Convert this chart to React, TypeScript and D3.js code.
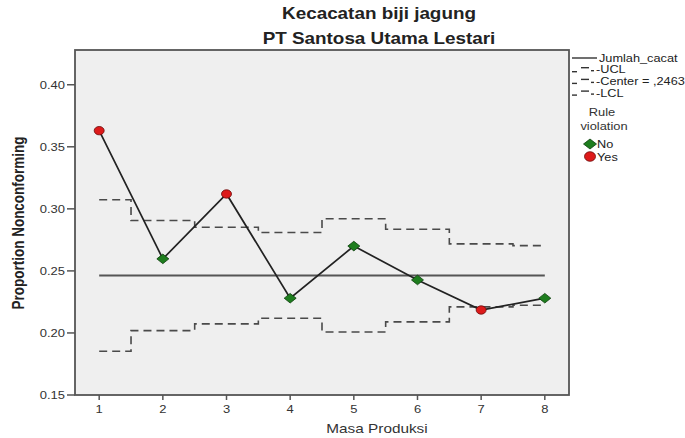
import React from "react";
import * as d3 from "d3";

const periods = [1, 2, 3, 4, 5, 6, 7, 8];
const proportions = [0.363, 0.2597, 0.312, 0.228, 0.27, 0.2427, 0.2185, 0.228];
const ucl = [0.3073, 0.2906, 0.2852, 0.2809, 0.292, 0.2836, 0.2718, 0.2704];
const lcl = [0.1852, 0.2019, 0.2073, 0.2118, 0.2008, 0.2089, 0.221, 0.2223];
const center = 0.2463;
const violations = ["Yes", "No", "Yes", "No", "No", "No", "Yes", "No"];
const yTicks = [0.15, 0.2, 0.25, 0.3, 0.35, 0.4];
const xTicks = [1, 2, 3, 4, 5, 6, 7, 8];
const legendLines = ["Jumlah_cacat", "UCL", "Center = ,2463", "LCL"];
const legendMarkers = ["No", "Yes"];

const W = 685;
const H = 438;
const left = 75, right = 569, top = 50, bottom = 395;
const SX = 1.18;
const FONT = "'Liberation Sans', Arial, sans-serif";
const GREEN = "#1e7d1e";
const RED = "#dd1a1a";

function T(props: { x: number; y: number; size: number; anchor?: string; bold?: boolean; fill?: string; sx?: number; children: any }) {
  const { x, y, size, anchor = "start", bold = false, fill = "#222", sx = SX, children } = props;
  return (
    <text
      transform={`translate(${x},${y}) scale(${sx},1)`}
      fontFamily={FONT}
      fontSize={size}
      fontWeight={bold ? "bold" : "normal"}
      textAnchor={anchor}
      fill={fill}
    >
      {children}
    </text>
  );
}

function Diamond({ x, y, w = 6, h = 4.8 }: { x: number; y: number; w?: number; h?: number }) {
  return (
    <path
      d={`M${x - w},${y}L${x},${y - h}L${x + w},${y}L${x},${y + h}Z`}
      fill={GREEN}
      stroke="#0d3d0d"
      strokeWidth={0.8}
    />
  );
}

function Dot({ x, y, rx = 5, ry = 4.2 }: { x: number; y: number; rx?: number; ry?: number }) {
  return <ellipse cx={x} cy={y} rx={rx} ry={ry} fill={RED} stroke="#6a0a0a" strokeWidth={0.8} />;
}

export default function App() {
  const x = d3.scaleLinear().domain([0.62, 8.38]).range([left, right]);
  const y = d3.scaleLinear().domain([0.15, 0.428]).range([bottom, top]);

  const stepPath = (vals: number[]) => {
    let d = "";
    vals.forEach((v, i) => {
      const p = periods[i];
      const x0 = i === 0 ? p : p - 0.5;
      const x1 = i === vals.length - 1 ? p : p + 0.5;
      d += (i === 0 ? "M" : "L") + x(x0) + "," + y(v) + "L" + x(x1) + "," + y(v);
    });
    return d;
  };

  const line = d3
    .line<number>()
    .x((_, i) => x(periods[i]))
    .y((v) => y(v));

  const fmt = d3.format(".2f");

  return (
    <svg width={W} height={H} style={{ position: "absolute", left: 0, top: 0, background: "#fff" }}>
      <T x={379} y={19} size={16} bold anchor="middle">Kecacatan biji jagung</T>
      <T x={379} y={44} size={16} bold anchor="middle">PT Santosa Utama Lestari</T>

      <rect x={left} y={top} width={right - left} height={bottom - top} fill="#efefef" stroke="none" />

      <path d={stepPath(ucl)} fill="none" stroke="#4a4a4a" strokeWidth={1.6} strokeDasharray="8,5" />
      <path d={stepPath(lcl)} fill="none" stroke="#4a4a4a" strokeWidth={1.6} strokeDasharray="8,5" />
      <line x1={x(1)} x2={x(8)} y1={y(center)} y2={y(center)} stroke="#555" strokeWidth={2} />

      <path d={line(proportions) || ""} fill="none" stroke="#222" strokeWidth={1.7} />
      {proportions.map((v, i) =>
        violations[i] === "Yes" ? (
          <Dot key={i} x={x(periods[i])} y={y(v)} />
        ) : (
          <Diamond key={i} x={x(periods[i])} y={y(v)} />
        )
      )}

      <rect x={left} y={top} width={right - left} height={bottom - top} fill="none" stroke="#555" strokeWidth={1.8} />

      {yTicks.map((t) => (
        <g key={t}>
          <line x1={left - 8} x2={left} y1={y(t)} y2={y(t)} stroke="#555" strokeWidth={1.5} />
          <T x={left - 10} y={y(t) + 4} size={11} anchor="end" fill="#333">{fmt(t)}</T>
        </g>
      ))}
      <text
        transform={`translate(24,223) scale(1.18,1) rotate(-90)`}
        fontFamily={FONT}
        fontSize={13.5}
        fontWeight="bold"
        textAnchor="middle"
        fill="#222"
      >
        Proportion Nonconforming
      </text>

      {xTicks.map((t) => (
        <g key={t}>
          <line x1={x(t)} x2={x(t)} y1={bottom} y2={bottom + 5} stroke="#555" strokeWidth={1.5} />
          <T x={x(t)} y={413} size={11} anchor="middle" fill="#333">{String(t)}</T>
        </g>
      ))}
      <T x={377} y={433} size={13} anchor="middle" fill="#333">Masa Produksi</T>

      {legendLines.map((lab, i) => {
        const ly = 58 + i * 11.7;
        return (
          <g key={lab}>
            {i === 0 ? (
              <line x1={572} x2={597} y1={ly} y2={ly} stroke="#333" strokeWidth={1.4} />
            ) : (
              <g stroke="#333" strokeWidth={1.4}>
                <line x1={572} x2={577} y1={ly + 2} y2={ly + 2} />
                <line x1={581} x2={589} y1={ly - 2} y2={ly - 2} />
                <line x1={591} x2={594} y1={ly + 1} y2={ly + 1} />
              </g>
            )}
            <T x={i === 0 ? 599 : 596} y={ly + 3.5} size={10.8} fill="#222">{i === 0 ? lab : "-" + lab}</T>
          </g>
        );
      })}
      <T x={602} y={116} size={11.5} anchor="middle" fill="#333" sx={1.12}>Rule</T>
      <T x={604} y={130} size={11.5} anchor="middle" fill="#333" sx={1.12}>violation</T>
      {legendMarkers.map((lab, i) => {
        const ly = 144 + i * 12.5;
        return (
          <g key={lab}>
            {lab === "No" ? <Diamond x={590} y={ly} w={6.5} h={5} /> : <Dot x={590} y={ly} rx={5.5} ry={4.8} />}
            <T x={597} y={ly + 4} size={10.8} fill="#222">{lab}</T>
          </g>
        );
      })}
    </svg>
  );
}
